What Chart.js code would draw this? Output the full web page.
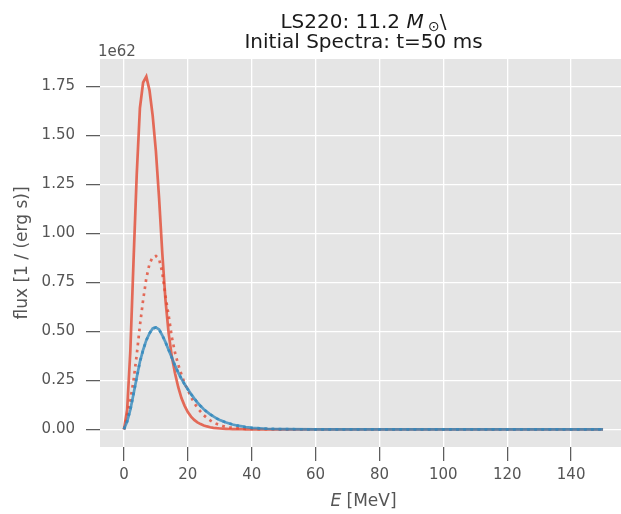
<!DOCTYPE html>
<html>
<head>
<meta charset="utf-8">
<script src="https://cdn.jsdelivr.net/npm/chart.js@4"></script>
<style>
    html, body { margin: 0; padding: 0; background: #fff; overflow: hidden; }
    #wrap { width: 640px; height: 514px; }
</style>
</head>
<body>
<div id="wrap"><canvas id="spectra" width="640" height="514"></canvas></div>
<script>
// energies in MeV
const energies = [0, 1, 2, 3, 4, 5, 6, 7, 8, 9, 10, 11, 12, 13, 14, 15, 16, 17, 18, 19, 20,
    21, 22, 23, 24, 25, 26, 27, 28, 29, 30, 31, 32, 33, 34, 35, 36, 37, 38, 39, 40,
    45, 50, 60, 70, 80, 90, 100, 110, 120, 130, 140, 150];

// flux in units of 1e62
const nuE = [0, 0.10, 0.40, 0.86, 1.30, 1.64, 1.77, 1.80, 1.73, 1.60, 1.42, 1.18, 0.90, 0.66, 0.49, 0.37, 0.285, 0.215, 0.16, 0.12, 0.088,
    0.065, 0.048, 0.036, 0.027, 0.020, 0.015, 0.011, 0.008, 0.006, 0.0045, 0.0034, 0.0025, 0.0019, 0.0014, 0.001, 0.0008, 0.0006, 0.0004, 0.0003, 0.0002,
    0.0001, 0, 0, 0, 0, 0, 0, 0, 0, 0, 0, 0];
const nuEBar = [0, 0.065, 0.15, 0.25, 0.38, 0.53, 0.66, 0.77, 0.845, 0.88, 0.885, 0.87, 0.80, 0.68, 0.58, 0.47, 0.39, 0.33, 0.28, 0.235, 0.20,
    0.165, 0.135, 0.11, 0.09, 0.072, 0.058, 0.046, 0.036, 0.028, 0.022, 0.017, 0.013, 0.010, 0.008, 0.006, 0.005, 0.004, 0.003, 0.0025, 0.002,
    0.0007, 0.0002, 0, 0, 0, 0, 0, 0, 0, 0, 0, 0];
const nuX = [0, 0.04, 0.10, 0.18, 0.265, 0.345, 0.405, 0.455, 0.49, 0.515, 0.52, 0.51, 0.48, 0.445, 0.405, 0.365, 0.325, 0.29, 0.258, 0.23, 0.205,
    0.18, 0.158, 0.137, 0.119, 0.103, 0.089, 0.077, 0.066, 0.056, 0.048, 0.041, 0.035, 0.030, 0.025, 0.021, 0.018, 0.015, 0.012, 0.010, 0.008,
    0.003, 0.001, 0.0002, 0, 0, 0, 0, 0, 0, 0, 0, 0];
const nuXBar = [0, 0.04, 0.10, 0.18, 0.265, 0.345, 0.405, 0.455, 0.49, 0.515, 0.52, 0.51, 0.48, 0.445, 0.405, 0.365, 0.325, 0.29, 0.258, 0.23, 0.205,
    0.18, 0.158, 0.137, 0.119, 0.103, 0.089, 0.077, 0.066, 0.056, 0.048, 0.041, 0.035, 0.030, 0.025, 0.021, 0.018, 0.015, 0.012, 0.010, 0.008,
    0.003, 0.001, 0.0002, 0, 0, 0, 0, 0, 0, 0, 0, 0];

const xTicks = [0, 20, 40, 60, 80, 100, 120, 140];
const yTicks = [0, 0.25, 0.5, 0.75, 1.0, 1.25, 1.5, 1.75];

const titleLine1 = ['LS220: 11.2 ', 'M', '\u2299', '\\'];
const titleLine2 = 'Initial Spectra: t=50 ms';
const xLabel = ['E', ' [MeV]'];
const yLabel = 'flux [1 / (erg s)]';
const offsetText = '1e62';

const red = 'rgba(226, 74, 51, 0.8)';
const blue = 'rgba(52, 138, 189, 0.8)';
const font = '"DejaVu Sans", sans-serif';

function points(values) {
    return energies.map((e, i) => ({ x: e, y: values[i] }));
}

function drawRuns(ctx, runs, cx, y) {
    let total = 0;
    runs.forEach(r => { ctx.font = r.font; r.w = ctx.measureText(r.text).width; total += r.w; });
    let x = cx - total / 2;
    runs.forEach(r => {
        ctx.font = r.font;
        ctx.fillText(r.text, x, y + (r.dy || 0));
        x += r.w;
    });
}

const decorations = {
    id: 'decorations',
    beforeDraw(chart) {
        const { ctx, chartArea: a } = chart;
        ctx.save();
        ctx.fillStyle = '#ffffff';
        ctx.fillRect(0, 0, chart.width, chart.height);
        ctx.fillStyle = '#e5e5e5';
        ctx.fillRect(a.left, a.top, a.right - a.left, a.bottom - a.top);
        ctx.restore();
    },
    afterDraw(chart) {
        const { ctx, chartArea: a } = chart;
        const cx = (a.left + a.right) / 2;
        ctx.save();
        ctx.textBaseline = 'alphabetic';
        ctx.textAlign = 'left';

        // title
        ctx.fillStyle = '#1a1a1a';
        drawRuns(ctx, [
            { text: titleLine1[0], font: '20px ' + font },
            { text: titleLine1[1], font: 'italic 20px ' + font },
            { text: ' ' + titleLine1[2], font: '14px ' + font, dy: 3 },
            { text: titleLine1[3], font: '20px ' + font }
        ], cx, 28);
        drawRuns(ctx, [{ text: titleLine2, font: '20px ' + font }], cx, 48);

        // offset text
        ctx.fillStyle = '#555555';
        ctx.font = '15px ' + font;
        ctx.fillText(offsetText, 98, 56);

        // x label
        drawRuns(ctx, [
            { text: xLabel[0], font: 'italic 17px ' + font },
            { text: xLabel[1], font: '17px ' + font }
        ], cx, 506);

        // y label
        ctx.font = '17px ' + font;
        ctx.translate(27, (a.top + a.bottom) / 2);
        ctx.rotate(-Math.PI / 2);
        ctx.textAlign = 'center';
        ctx.fillText(yLabel, 0, 0);
        ctx.restore();
    }
};

const ctx = document.getElementById('spectra').getContext('2d');

new Chart(ctx, {
    type: 'line',
    data: {
        datasets: [
            { data: points(nuE), borderColor: red, borderWidth: 2.7, order: 4 },
            { data: points(nuEBar), borderColor: red, borderWidth: 2.7, borderDash: [2.7, 4.4], order: 3 },
            { data: points(nuX), borderColor: blue, borderWidth: 2.7, order: 2 },
            { data: points(nuXBar), borderColor: blue, borderWidth: 2.7, borderDash: [2.7, 4.4], order: 1 }
        ]
    },
    options: {
        responsive: false,
        animation: false,
        layout: {
            padding: { top: 59, right: 13, left: 0, bottom: 0 }
        },
        elements: {
            point: { radius: 0 },
            line: { tension: 0, fill: false, borderCapStyle: 'butt' }
        },
        scales: {
            x: {
                type: 'linear',
                min: -7.5,
                max: 157.5,
                afterBuildTicks: scale => { scale.ticks = xTicks.map(v => ({ value: v })); },
                afterFit: scale => { scale.height = 67; },
                border: { display: false },
                grid: {
                    color: '#ffffff',
                    lineWidth: 1.3,
                    drawTicks: true,
                    tickLength: 14,
                    tickColor: '#555555',
                    tickWidth: 1.2
                },
                ticks: {
                    color: '#555555',
                    font: { family: 'DejaVu Sans', size: 15 },
                    padding: 5,
                    maxRotation: 0,
                    callback: value => value.toString()
                }
            },
            y: {
                type: 'linear',
                min: -0.09,
                max: 1.89,
                afterBuildTicks: scale => { scale.ticks = yTicks.map(v => ({ value: v })); },
                afterFit: scale => { scale.width = 100; },
                border: { display: false },
                grid: {
                    color: '#ffffff',
                    lineWidth: 1.3,
                    drawTicks: true,
                    tickLength: 14,
                    tickColor: '#555555',
                    tickWidth: 1.2
                },
                ticks: {
                    color: '#555555',
                    font: { family: 'DejaVu Sans', size: 15 },
                    padding: 11,
                    callback: value => value.toFixed(2)
                }
            }
        },
        plugins: {
            legend: { display: false },
            tooltip: { enabled: false },
            title: { display: false }
        }
    },
    plugins: [decorations]
});
</script>
</body>
</html>
